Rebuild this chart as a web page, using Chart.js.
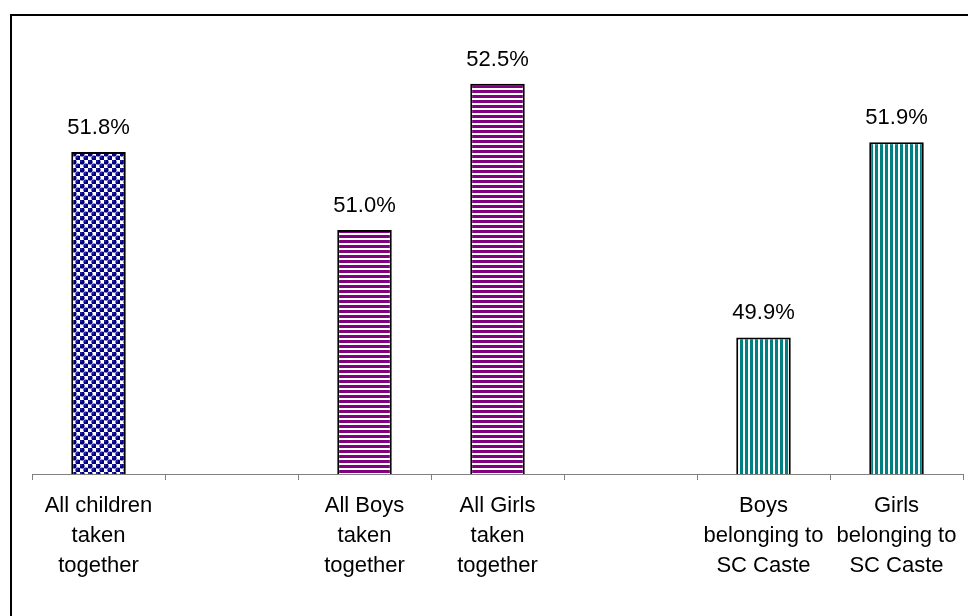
<!DOCTYPE html>
<html>
<head>
<meta charset="utf-8">
<script src="https://cdn.jsdelivr.net/npm/chart.js@4.4.0/dist/chart.umd.min.js"></script>
<style>
body{margin:0;background:#fff;}
#wrap{width:968px;height:616px;position:relative;}
</style>
</head>
<body>
<div id="wrap"><canvas id="barChart" width="968" height="616"></canvas></div>
<script>
/* ---------------------------- Data --------------------------------------------- */

const categories = [
    ['All children', 'taken', 'together'],
    '',
    ['All Boys', 'taken', 'together'],
    ['All Girls', 'taken', 'together'],
    '',
    ['Boys', 'belonging to', 'SC Caste'],
    ['Girls', 'belonging to', 'SC Caste']
]
const percentValues = [51.8, null, 51.0, 52.5, null, 49.9, 51.9]
const fillStyles = ['dots', null, 'hstripe', 'hstripe', null, 'vstripe', 'vstripe']

/* ---------------------------- Patterns --------------------------------------------- */

const make_pattern=(kind)=>{
    const tile=document.createElement('canvas')
    const c=tile.getContext('2d')
    if(kind==='dots'){
        tile.width=8; tile.height=8
        c.fillStyle='#fff'
        c.fillRect(0,0,8,8)
        const ball=(x,y)=>{
            c.fillStyle='#000080'
            c.beginPath(); c.arc(x,y,2.6,0,Math.PI*2); c.fill()
            c.fillStyle='#5a5ad0'
            c.fillRect(x-1.5,y-1.5,1.2,1.2)
        }
        ball(2,2); ball(6,6); ball(10,-2); ball(-2,10); ball(-2,-2); ball(10,10)
    }
    else if(kind==='hstripe'){
        tile.width=5; tile.height=5
        c.fillStyle='#fff'
        c.fillRect(0,0,5,5)
        c.fillStyle='#800080'
        c.fillRect(0,0,5,3)
    }
    else{
        tile.width=5; tile.height=5
        c.fillStyle='#fff'
        c.fillRect(0,0,5,5)
        c.fillStyle='#008080'
        c.fillRect(0,0,3,5)
    }
    return c.createPattern(tile,'repeat')
}

const ctx=document.getElementById('barChart').getContext('2d')
const patterns=fillStyles.map(k=>k ? make_pattern(k) : 'rgba(0,0,0,0)')

/* ---------------------------- Plugins --------------------------------------------- */

const frameBox={
    id:'frameBox',
    afterDraw(chart){
        const c=chart.ctx
        c.save()
        c.strokeStyle='#000'
        c.lineWidth=2
        c.strokeRect(11,15,1000,1000)
        c.restore()
    }
}

const valueLabels={
    id:'valueLabels',
    afterDatasetsDraw(chart){
        const c=chart.ctx
        const meta=chart.getDatasetMeta(0)
        c.save()
        c.font='22px "Liberation Sans", Arial, sans-serif'
        c.fillStyle='#000'
        c.textAlign='center'
        c.textBaseline='alphabetic'
        meta.data.forEach((bar,i)=>{
            const v=percentValues[i]
            if(v===null) return
            c.fillText(v.toFixed(1)+'%',bar.x,bar.y-18)
        })
        c.restore()
    }
}

/* ---------------------------- Chart --------------------------------------------- */

const config={
    type:'bar',
    data:{
        labels:categories,
        datasets:[{
            data:percentValues,
            backgroundColor:patterns,
            borderColor:'#000',
            borderWidth:2,
            barPercentage:0.41,
            categoryPercentage:1.0
        }]
    },
    options:{
        responsive:false,
        animation:false,
        layout:{
            padding:{left:32,right:5,top:35,bottom:24}
        },
        plugins:{
            legend:{display:false},
            tooltip:{enabled:false}
        },
        scales:{
            x:{
                grid:{
                    display:true,
                    drawOnChartArea:false,
                    tickLength:6,
                    color:'#808080',
                    offset:true
                },
                border:{color:'#808080',width:1},
                ticks:{
                    color:'#000',
                    padding:11,
                    maxRotation:0,
                    autoSkip:false,
                    font:{family:'"Liberation Sans", Arial, sans-serif',size:22,lineHeight:30/22}
                }
            },
            y:{
                display:false,
                min:48.5,
                max:53
            }
        }
    },
    plugins:[valueLabels,frameBox]
}

const barChart=new Chart(ctx,config)
</script>
</body>
</html>
